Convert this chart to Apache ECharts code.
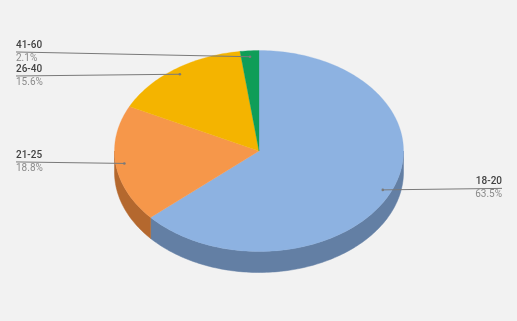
<!DOCTYPE html>
<html><head><meta charset="utf-8">
<script src="https://cdn.jsdelivr.net/npm/echarts/dist/echarts.min.js"></script>
<style>html,body{margin:0;padding:0;background:#f2f2f2}#c{width:517px;height:321px}</style>
</head><body><div id="c"></div>
<script>
// ---- data ----
const categories = ['18-20', '21-25', '26-40', '41-60'];
const values = [63.5, 18.8, 15.6, 2.1];
const topColors = ['#8db2e1', '#f6974a', '#f4b400', '#0f9d58'];
const sideColors = ['#637fa4', '#b4682e', '#b08200', '#0a7040'];

// ---- layout constants ----
const CX = 259, CY = 151, RX = 144.5, RY = 100.5, DEPTH = 21;
const LEFT_X = 16, RIGHT_X = 502, MIN_GAP = 24;

const total = values.reduce((a, b) => a + b, 0);
const starts = [];
{ let acc = 0; values.forEach(v => { starts.push(acc / total * 2 * Math.PI); acc += v; }); }
function pt(t, dy, f) { f = f || 1; return [CX + RX * f * Math.sin(t), CY - RY * f * Math.cos(t) + (dy || 0)]; }

// label anchors + symmetric anti-overlap
const labels = values.map((v, i) => {
  const mid = starts[i] + v / total * Math.PI;
  const a = pt(mid, 0, 0.94);
  return { i, anchor: a, right: Math.sin(mid) >= 0, y: a[1] };
});
['L', 'R'].forEach(s => {
  const grp = labels.filter(l => (s === 'R') === l.right).sort((a, b) => a.y - b.y);
  for (let it = 0; it < 20; it++) {
    for (let k = 1; k < grp.length; k++) {
      const d = grp[k].y - grp[k - 1].y;
      if (d < MIN_GAP) { const h = (MIN_GAP - d) / 2; grp[k].y += h; grp[k - 1].y -= h; }
    }
  }
});
labels.forEach(l => { l.y -= 1.5; });

function arc(t0, t1, dy) {
  const pts = [];
  const n = Math.max(2, Math.ceil((t1 - t0) / 0.02));
  for (let k = 0; k <= n; k++) pts.push(pt(t0 + (t1 - t0) * k / n, dy));
  return pts;
}

const chart = echarts.init(document.getElementById('c'), null, { renderer: 'canvas' });
chart.setOption({
  backgroundColor: '#f2f2f2',
  animation: false,
  series: [{
    type: 'custom',
    coordinateSystem: 'none',
    data: values,
    renderItem: function (params, api) {
      const i = params.dataIndex;
      const t0 = starts[i];
      const t1 = t0 + values[i] / total * 2 * Math.PI;
      const children = [];
      // side (front half only: 90deg..270deg)
      const s0 = Math.max(t0, Math.PI / 2), s1 = Math.min(t1, 3 * Math.PI / 2);
      if (s1 > s0) {
        const topArc = arc(s0, s1, 0);
        const botArc = arc(s0, s1, DEPTH).reverse();
        children.push({ type: 'polygon', z2: 0, shape: { points: topArc.concat(botArc) },
          style: { fill: sideColors[i], stroke: sideColors[i], lineWidth: 0.5 } });
      }
      // top face
      children.push({ type: 'polygon', z2: 1, shape: { points: [[CX, CY]].concat(arc(t0, t1, 0)) },
        style: { fill: topColors[i], stroke: topColors[i], lineWidth: 0.3 } });
      // label
      const L = labels[i];
      const ex = L.right ? RIGHT_X : LEFT_X;
      children.push({ type: 'polyline', z2: 3, shape: { points: [[ex, L.y], L.anchor] },
        style: { stroke: '#7a7a7a', lineWidth: 1, fill: null } });
      children.push({ type: 'circle', z2: 3, shape: { cx: L.anchor[0], cy: L.anchor[1], r: 1.3 },
        style: { fill: '#7a7a7a' } });
      children.push({ type: 'text', z2: 3, style: { text: categories[i], x: ex, y: L.y - 6.5,
        align: L.right ? 'right' : 'left', verticalAlign: 'middle',
        font: '500 10px Roboto', fill: '#424242' } });
      children.push({ type: 'text', z2: 3, style: { text: values[i].toFixed(1) + '%', x: ex, y: L.y + 6.5,
        align: L.right ? 'right' : 'left', verticalAlign: 'middle',
        font: '10px Roboto', fill: '#8a8a8a' } });
      return { type: 'group', children };
    }
  }]
});
</script>
</body></html>
